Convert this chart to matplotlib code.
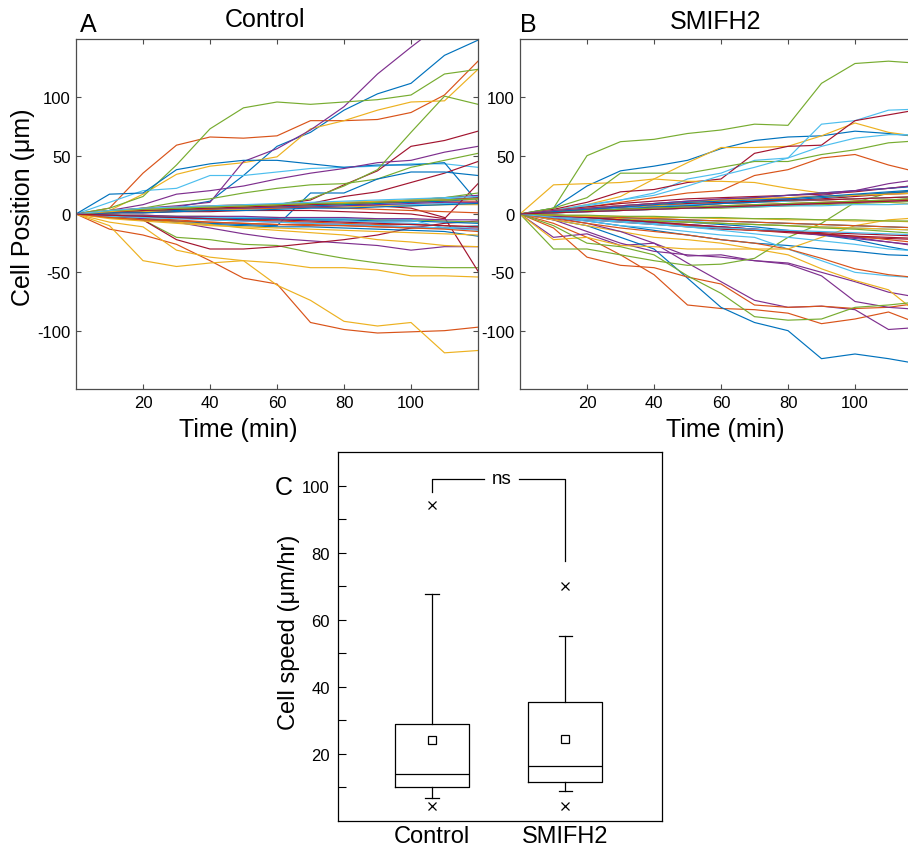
import matplotlib.pyplot as plt
from matplotlib.ticker import FixedLocator

plt.rcParams['font.family'] = ['Liberation Sans', 'DejaVu Sans']
plt.rcParams['axes.unicode_minus'] = False

# time points (min)
time = [0, 10, 20, 30, 40, 50, 60, 70, 80, 90, 100, 110, 120]

# cell positions (um) (Control)
control_tracks = [
    [0, 2, 4, 6, 11, 33, 58, 70, 89, 103, 112, 136, 149],
    [0, 5, 35, 59, 66, 65, 67, 80, 80, 81, 87, 102, 131],
    [0, 3, 17, 34, 41, 44, 49, 73, 80, 89, 96, 97, 124],
    [0, 2, 5, 7, 10, 45, 56, 72, 92, 120, 143, 165, 185],
    [0, 5, 15, 42, 73, 91, 96, 94, 96, 98, 102, 120, 124],
    [0, 10, 20, 22, 33, 33, 36, 39, 40, 41, 43, 43, 40],
    [0, 1, 2, 3, 5, 6, 8, 12, 25, 37, 58, 63, 71],

    [0, 17, 18, 38, 43, 46, 46, 43, 40, 42, 42, 44, 10],
    [0, -13, -18, -26, -40, -55, -60, -93, -99, -102, -101, -100, -97],
    [0, -10, -40, -45, -42, -40, -42, -46, -46, -48, -53, -53, -54],
    [0, 3, 8, 17, 20, 24, 30, 35, 39, 44, 46, 53, 58],
    [0, 2, 5, 10, 13, 18, 22, 25, 26, 30, 40, 46, 52],
    [0, 2, 4, 5, 6, 7, 8, 9, 10, 11, 12, 13, 14],
    [0, 2, 3, 4, 5, 6, 7, 9, 15, 19, 27, 35, 45],

    [0, -2, -4, -6, -8, -9, -10, 18, 18, 30, 36, 36, 33],
    [0, -2, -4, -5, -7, -8, -9, -9, -10, -11, -12, -12, -10],
    [0, -7, -11, -31, -37, -40, -61, -74, -92, -96, -93, -119, -117],
    [0, -2, -4, -7, -12, -17, -21, -23, -25, -27, -31, -28, -28],
    [0, -3, -5, -20, -22, -26, -27, -33, -38, -42, -45, -46, -46],
    [0, -1, -2, -3, -3, -4, -5, -5, -6, -7, -8, -10, -12],
    [0, -2, -5, -22, -30, -30, -28, -25, -22, -18, -12, -8, -6],

    [0, -3, -5, -7, -9, -10, -11, -11, -12, -13, -14, -15, -19],
    [0, 3, 5, 6, 7, 8, 8, 9, 9, 10, 10, 11, 11],
    [0, -3, -5, -7, -9, -12, -14, -16, -18, -22, -24, -27, -28],
    [0, 1, 3, 4, 5, 6, 7, 8, 9, 10, 12, 14, 16],
    [0, 1, 2, 3, 4, 6, 8, 13, 24, 38, 70, 101, 94],
    [0, 2, 3, 4, 5, 6, 6, 7, 7, 8, 8, 9, 9],
    [0, 2, 4, 5, 6, 7, 8, 9, 9, 7, 5, -3, -49],

    [0, 1, 2, 3, 4, 5, 6, 7, 8, 9, 10, 11, 13],
    [0, -1, -2, -3, -4, -5, -6, -7, -8, -9, -9, -10, -11],
    [0, 1, 2, 2, 3, 4, 5, 6, 6, 7, 7, 8, 8],
    [0, -1, -2, -3, -5, -6, -7, -8, -9, -10, -11, -12, -13],
    [0, -1, -1, -2, -2, -3, -3, -4, -4, -5, -5, -6, -7],
    [0, -2, -3, -4, -5, -6, -7, -8, -9, -10, -11, -12, -10],
    [0, 1, 1, 2, 2, 3, 3, 3, 2, 1, 0, -4, 26],

    [0, -1, -2, -3, -3, -4, -4, -5, -5, -6, -6, -7, -8],
    [0, 2, 3, 4, 4, 5, 5, 6, 5, 4, 3, 2, 1],
    [0, -4, -6, -8, -10, -11, -12, -13, -14, -15, -16, -17, -18],
    [0, 2, 3, 4, 5, 5, 6, 6, 7, 8, 9, 10, 10],
    [0, 2, 3, 4, 5, 6, 7, 8, 9, 10, 12, 14, 18],
    [0, -1, -2, -2, -3, -3, -3, -4, -4, -4, -5, -12, -14],
    [0, 2, 3, 4, 5, 6, 7, 8, 9, 10, 11, 12, 14],

    [0, 1, 1, 2, 3, 3, 4, 5, 5, 6, 7, 8, 9],
    [0, -3, -5, -6, -7, -8, -9, -10, -10, -11, -12, -13, -15],
    [0, 2, 4, 5, 6, 7, 8, 9, 10, 11, 12, 12, 13],
    [0, -1, -1, -2, -2, -2, -3, -3, -3, -4, -4, -5, -5],
    [0, 3, 4, 5, 6, 7, 8, 9, 9, 10, 11, 12, 13],
    [0, 3, 5, 6, 7, 8, 9, 10, 11, 12, 13, 14, 15],
    [0, -1, -2, -3, -4, -5, -5, -6, -7, -8, -9, -10, -11],
]

# cell positions (um) (SMIFH2)
smifh2_tracks = [
    [0, 5, 24, 37, 41, 46, 56, 63, 66, 67, 71, 69, 66],
    [0, -8, -20, -35, -52, -78, -81, -82, -85, -94, -90, -84, -95],
    [0, 3, 8, 15, 30, 44, 57, 57, 58, 67, 78, 70, 66],
    [0, -20, -17, -27, -25, -42, -58, -74, -80, -79, -82, -99, -97],
    [0, 5, 50, 62, 64, 69, 72, 77, 76, 112, 129, 131, 129],
    [0, 3, 8, 12, 18, 30, 35, 46, 48, 77, 80, 89, 90],
    [0, 4, 10, 19, 21, 27, 30, 52, 58, 59, 80, 85, 90],

    [0, -5, -10, -20, -30, -55, -80, -93, -100, -124, -120, -124, -129],
    [0, 2, 6, 10, 14, 18, 20, 33, 38, 48, 51, 42, 35],
    [0, 25, 26, 27, 30, 28, 28, 27, 22, 18, 12, 10, 8],
    [0, -5, -15, -25, -32, -35, -37, -40, -42, -50, -58, -67, -72],
    [0, 5, 14, 35, 35, 35, 40, 45, 45, 51, 55, 61, 63],
    [0, 3, 7, 12, 16, 24, 33, 40, 48, 58, 65, 68, 68],
    [0, 3, 6, 9, 11, 13, 14, 15, 16, 17, 19, 22, 25],

    [0, -3, -6, -10, -14, -18, -22, -25, -27, -30, -32, -35, -36],
    [0, -12, -37, -44, -46, -54, -60, -78, -80, -79, -81, -80, -76],
    [0, -5, -10, -15, -20, -22, -25, -30, -35, -47, -57, -65, -88],
    [0, -3, -8, -15, -25, -36, -35, -40, -43, -53, -75, -80, -82],
    [0, -30, -30, -35, -40, -44, -43, -38, -20, -8, 10, 18, 20],
    [0, -3, -6, -10, -12, -15, -18, -20, -30, -40, -50, -53, -55],
    [0, -2, -4, -6, -8, -10, -12, -14, -16, -18, -20, -21, -22],

    [0, 3, 5, 7, 9, 11, 12, 14, 16, 18, 20, 22, 24],
    [0, -4, -8, -12, -15, -18, -22, -25, -30, -38, -47, -52, -55],
    [0, -22, -20, -27, -28, -30, -30, -30, -30, -20, -10, -5, -3],
    [0, -2, -4, -6, -8, -10, -11, -13, -15, -17, -20, -24, -28],
    [0, -10, -25, -28, -35, -53, -68, -88, -91, -90, -80, -78, -75],
    [0, -1, -2, -4, -5, -6, -8, -9, -10, -11, -12, -13, -14],
    [0, 2, 4, 5, 7, 8, 9, 10, 11, 13, 15, 17, 18],

    [0, -2, -3, -5, -6, -7, -9, -11, -14, -18, -22, -28, -33],
    [0, 3, 5, 7, 9, 10, 12, 13, 14, 15, 16, 18, 20],
    [0, 2, 4, 5, 7, 8, 9, 10, 11, 12, 13, 14, 15],
    [0, 2, 3, 5, 6, 7, 9, 11, 13, 16, 20, 26, 30],
    [0, 1, 2, 3, 4, 5, 5, 6, 7, 8, 9, 10, 11],
    [0, 2, 4, 5, 6, 8, 9, 10, 11, 12, 13, 14, 15],
    [0, -3, -5, -7, -9, -11, -13, -14, -15, -16, -17, -18, -19],

    [0, 1, 3, 4, 6, 7, 9, 10, 12, 14, 16, 18, 20],
    [0, -2, -4, -6, -8, -10, -12, -14, -15, -17, -19, -22, -25],
    [0, -2, -3, -4, -6, -7, -8, -9, -10, -11, -12, -13, -14],
    [0, 1, 2, 3, 4, 5, 6, 7, 8, 9, 10, 11, 12],
    [0, -2, -3, -5, -6, -7, -8, -9, -10, -12, -13, -15, -17],
    [0, -2, -4, -6, -8, -11, -14, -17, -20, -23, -26, -30, -32],
    [0, 2, 4, 6, 8, 9, 10, 11, 12, 12, 13, 14, 15],

    [0, -1, -2, -3, -4, -5, -6, -7, -8, -9, -10, -11, -12],
    [0, 2, 3, 4, 5, 6, 7, 8, 9, 10, 11, 12, 13],
    [0, 3, 5, 7, 8, 10, 12, 13, 14, 15, 16, 17, 18],
    [0, -2, -3, -5, -7, -9, -11, -13, -15, -18, -21, -24, -27],
    [0, 2, 3, 4, 5, 6, 7, 8, 9, 10, 11, 12, 14],
    [0, 1, 2, 3, 4, 5, 6, 6, 7, 7, 8, 8, 9],
    [0, -1, -3, -5, -7, -9, -11, -13, -15, -17, -19, -20, -21],

    [0, 2, 4, 6, 8, 10, 11, 12, 13, 15, 17, 19, 21],
    [0, -1, -2, -3, -4, -5, -6, -7, -8, -9, -10, -11, -12],
    [0, -1, -2, -2, -3, -3, -4, -4, -5, -5, -6, -6, -7],
    [0, 3, 5, 7, 9, 11, 13, 14, 16, 18, 20, 22, 25],
    [0, -1, -1, -2, -2, -3, -3, -4, -4, -5, -5, -6, -6],
    [0, -3, -5, -7, -9, -11, -12, -13, -14, -15, -16, -17, -18],
    [0, 1, 2, 3, 4, 5, 6, 7, 8, 9, 10, 11, 12],
]

# cell speed summary (um/hr)
groups = ['Control', 'SMIFH2']
speed_q1 = [10.2, 11.6]
speed_med = [14.1, 16.5]
speed_q3 = [29.0, 35.4]
speed_mean = [24.0, 24.3]
speed_lo = [6.8, 8.9]
speed_hi = [67.8, 55.2]
speed_min = [4.4, 4.6]
speed_max = [94.1, 70.2]

matlab_colors = ['#0072BD', '#D95319', '#EDB120', '#7E2F8E',
                 '#77AC30', '#4DBEEE', '#A2142F']

W, H = 908, 853
fig = plt.figure(figsize=(W / 100, H / 100), dpi=100)


def px_axes(x0, y0, x1, y1):
    return fig.add_axes([x0 / W, 1 - y1 / H, (x1 - x0) / W, (y1 - y0) / H])


def draw_tracks(ax, tracks):
    for i, y in enumerate(tracks):
        ax.plot(time, y, color=matlab_colors[i % 7], lw=0.85)
    ax.set_xlim(0, 120)
    ax.set_ylim(-150, 150)
    ax.set_xticks([20, 40, 60, 80, 100])
    ax.set_yticks([-100, -50, 0, 50, 100])
    ax.tick_params(direction='in', top=True, right=True, length=3.5,
                   width=0.8, color='#4d4d4d', labelsize=12, pad=4)
    for s in ax.spines.values():
        s.set_color('#4d4d4d')
        s.set_linewidth(0.9)


axA = px_axes(76, 40, 478, 390)
draw_tracks(axA, control_tracks)
axB = px_axes(520, 40, 922, 390)
draw_tracks(axB, smifh2_tracks)

fig.text(88 / W, 1 - 32 / H, 'A', fontsize=18, ha='center', va='baseline')
fig.text(265 / W, 1 - 27 / H, 'Control', fontsize=18, ha='center', va='baseline')
fig.text(528 / W, 1 - 32 / H, 'B', fontsize=18, ha='center', va='baseline')
fig.text(716 / W, 1 - 29 / H, 'SMIFH2', fontsize=18, ha='center', va='baseline')
fig.text(23 / W, 1 - 207 / H, 'Cell Position (μm)', fontsize=18,
         rotation=90, ha='center', va='center')
fig.text(238 / W, 1 - 437 / H, 'Time (min)', fontsize=18, ha='center', va='baseline')
fig.text(725 / W, 1 - 437 / H, 'Time (min)', fontsize=18, ha='center', va='baseline')

# panel C: box plot
axC = px_axes(338, 453, 662, 822)
stats = []
for i, g in enumerate(groups):
    stats.append(dict(label=g, q1=speed_q1[i], med=speed_med[i], q3=speed_q3[i],
                      mean=speed_mean[i], whislo=speed_lo[i], whishi=speed_hi[i],
                      fliers=[speed_min[i], speed_max[i]]))
lp = dict(color='black', lw=0.9)
axC.bxp(stats, positions=[1, 2], widths=0.555, capwidths=0.1, showmeans=True,
        boxprops=lp, whiskerprops=lp, capprops=lp, medianprops=lp,
        meanprops=dict(marker='s', mfc='none', mec='black', ms=6, mew=0.9),
        flierprops=dict(marker='x', mec='black', ms=5.5, mew=0.9))
axC.set_xlim(0.295, 2.725)
axC.set_ylim(0, 110)
axC.set_yticks([20, 40, 60, 80, 100])
axC.yaxis.set_minor_locator(FixedLocator([10, 30, 50, 70, 90]))
axC.tick_params(axis='y', which='both', direction='in', length=6, width=0.8,
                labelsize=12, pad=6)
axC.tick_params(axis='x', length=0, labelsize=17, pad=3)
for s in axC.spines.values():
    s.set_linewidth(0.9)

axC.plot([1, 1, 1.39], [98, 102, 102], color='black', lw=0.9)
axC.plot([1.65, 2, 2], [102, 102, 77.4], color='black', lw=0.9)
axC.text(1.525, 102, 'ns', fontsize=13.5, ha='center', va='center')

fig.text(284 / W, 1 - 495 / H, 'C', fontsize=18, ha='center', va='baseline')
fig.text(289 / W, 1 - 632 / H, 'Cell speed (μm/hr)', fontsize=17,
         rotation=90, ha='center', va='center')

fig.savefig('out.png', dpi=100)
